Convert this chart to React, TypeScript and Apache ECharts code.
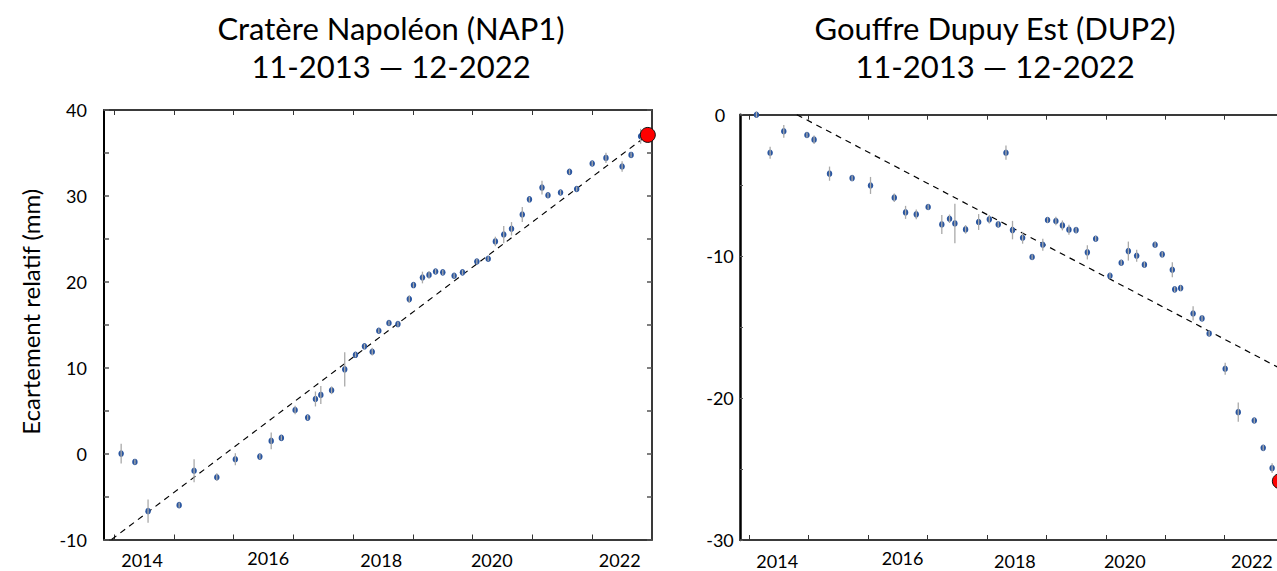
import React, { useEffect, useRef } from 'react';
import * as echarts from 'echarts';

const FONT = 'Lato, "Noto Sans", sans-serif';

// Shared axis ticks / labels (decimal years)
const YEAR_TICKS = [2014, 2015, 2016, 2017, 2018, 2019, 2020, 2021, 2022];
const YEAR_LABEL_POS = [2014.47, 2016.58, 2018.47, 2020.32, 2022.46];

// Cratère Napoléon (NAP1)
const NAP_TITLE = 'Cratère Napoléon (NAP1)';
const NAP_DATES = [
  2014.12, 2014.35, 2014.57, 2015.09, 2015.34, 2015.72, 2016.03, 2016.44, 2016.63, 2016.8,
  2017.03, 2017.24, 2017.37, 2017.46, 2017.64, 2017.86, 2018.04, 2018.19, 2018.32, 2018.43,
  2018.6, 2018.75, 2018.94, 2019.01, 2019.16, 2019.27, 2019.38, 2019.5, 2019.69, 2019.83,
  2020.07, 2020.26, 2020.38, 2020.52, 2020.65, 2020.83, 2020.95, 2021.16, 2021.26, 2021.47,
  2021.62, 2021.74, 2022.0, 2022.23, 2022.5, 2022.65, 2022.81,
];
const NAP_VALUES = [
  0.0, -0.97, -6.7, -6.0, -2.0, -2.75, -0.66, -0.35, 1.48, 1.83,
  5.08, 4.19, 6.36, 6.83, 7.37, 9.81, 11.5, 12.49, 11.86, 14.3,
  15.2, 15.08, 17.99, 19.62, 20.5, 20.8, 21.2, 21.1, 20.7, 21.1,
  22.37, 22.68, 24.7, 25.5, 26.17, 27.83, 29.6, 30.97, 30.08, 30.4,
  32.8, 30.8, 33.77, 34.42, 33.42, 34.77, 36.94,
];
const NAP_ERRORS = [
  1.16, 0.3, 1.36, 0.3, 1.34, 0.45, 0.7, 0.3, 0.97, 0.3,
  0.5, 0.3, 0.87, 1.05, 0.45, 2.0, 0.3, 0.3, 0.45, 0.3,
  0.3, 0.3, 0.45, 0.3, 0.68, 0.45, 0.3, 0.3, 0.3, 0.3,
  0.3, 0.3, 0.55, 1.0, 0.78, 0.87, 0.3, 0.8, 0.3, 0.3,
  0.3, 0.3, 0.3, 0.6, 0.6, 0.3, 0.87,
];
const NAP_TREND_X = [2013.96, 2022.93];
const NAP_TREND_Y = [-10, 37.1];
const NAP_LAST = [2022.93, 37.1];

// Gouffre Dupuy Est (DUP2)
const DUP_TITLE = 'Gouffre Dupuy Est (DUP2)';
const DUP_DATES = [
  2014.12, 2014.35, 2014.58, 2014.97, 2015.09, 2015.35, 2015.73, 2016.04, 2016.44, 2016.63,
  2016.81, 2017.01, 2017.24, 2017.37, 2017.46, 2017.64, 2017.86, 2018.04, 2018.19, 2018.32,
  2018.43, 2018.6, 2018.76, 2018.94, 2019.02, 2019.16, 2019.27, 2019.38, 2019.5, 2019.69,
  2019.83, 2020.07, 2020.26, 2020.38, 2020.52, 2020.65, 2020.83, 2020.95, 2021.12, 2021.16,
  2021.26, 2021.47, 2021.62, 2021.74, 2022.01, 2022.23, 2022.5, 2022.65, 2022.8,
];
const DUP_VALUES = [
  0.0, -2.68, -1.17, -1.43, -1.76, -4.16, -4.47, -4.99, -5.85, -6.89,
  -7.03, -6.51, -7.74, -7.34, -7.67, -8.09, -7.57, -7.38, -7.74, -2.68,
  -8.14, -8.68, -10.04, -9.17, -7.43, -7.5, -7.81, -8.11, -8.14, -9.71,
  -8.75, -11.36, -10.44, -9.62, -9.95, -10.58, -9.17, -9.85, -10.94, -12.32,
  -12.23, -14.02, -14.37, -15.43, -17.92, -20.98, -21.57, -23.5, -24.93,
];
const DUP_ERRORS = [
  0.2, 0.42, 0.45, 0.2, 0.3, 0.5, 0.2, 0.6, 0.3, 0.46,
  0.35, 0.2, 0.67, 0.3, 1.39, 0.3, 0.56, 0.3, 0.2, 0.5,
  0.65, 0.42, 0.2, 0.42, 0.2, 0.3, 0.35, 0.35, 0.2, 0.5,
  0.2, 0.2, 0.2, 0.67, 0.42, 0.2, 0.2, 0.2, 0.53, 0.2,
  0.2, 0.5, 0.2, 0.2, 0.42, 0.68, 0.2, 0.2, 0.35,
];
const DUP_TREND_X = [2014.8, 2023.0];
const DUP_TREND_Y = [0, -18.04];
const DUP_LAST = [2022.93, -25.85];

const PERIOD = '11-2013 — 12-2022';
const Y_NAME = 'Ecartement relatif (mm)';

const POINT_COLOR = '#2a56a0';
const BAR_COLOR = '#a9a9a9';
const AXIS_COLOR = '#3a3a3a';
const LABEL_SIZE = 18;

function xLabelFormatter(v: number) {
  const y = Math.floor(v + 0.001);
  return y === 2016 ? `{hi|${y}}` : `{lo|${y}}`;
}

function makeXAxes(gridIndex: number, min: number, max: number) {
  const common = {
    type: 'value',
    gridIndex,
    min,
    max,
    splitLine: { show: false },
    axisLine: { show: true, onZero: false, lineStyle: { color: AXIS_COLOR, width: 2 } },
    axisTick: {
      show: true,
      inside: true,
      length: 5,
      customValues: YEAR_TICKS,
      lineStyle: { color: '#333', width: 1 },
    },
  };
  return [
    {
      ...common,
      position: 'bottom',
      axisLabel: {
        show: true,
        customValues: YEAR_LABEL_POS,
        formatter: xLabelFormatter,
        margin: 10,
        color: '#000',
        fontFamily: FONT,
        fontSize: LABEL_SIZE,
        lineHeight: 16,
        rich: {
          hi: { fontFamily: FONT, fontSize: LABEL_SIZE, lineHeight: 16, color: '#000', padding: [0, 0, 0, 0] },
          lo: { fontFamily: FONT, fontSize: LABEL_SIZE, lineHeight: 16, color: '#000', padding: [5, 0, 0, 0] },
        },
      },
    },
    { ...common, position: 'top', axisLabel: { show: false } },
  ];
}

function errorBars(dates: number[], values: number[], errs: number[], xi: number, yi: number) {
  return {
    type: 'custom',
    xAxisIndex: xi,
    yAxisIndex: yi,
    z: 4,
    clip: false,
    data: dates.map((d, i) => [d, values[i], errs[i]]),
    renderItem: (_params: any, api: any) => {
      const x = api.value(0);
      const y = api.value(1);
      const e = api.value(2);
      const p1 = api.coord([x, y - e]);
      const p2 = api.coord([x, y + e]);
      return {
        type: 'line',
        shape: { x1: p1[0], y1: p1[1], x2: p2[0], y2: p2[1] },
        style: { stroke: BAR_COLOR, lineWidth: 1.3 },
      };
    },
  };
}

function points(dates: number[], values: number[], xi: number, yi: number) {
  return {
    type: 'scatter',
    xAxisIndex: xi,
    yAxisIndex: yi,
    z: 3,
    clip: false,
    symbol: 'circle',
    symbolSize: [5.5, 6.5],
    itemStyle: { color: POINT_COLOR, opacity: 1 },
    data: dates.map((d, i) => [d, values[i]]),
  };
}

function trend(xs: number[], ys: number[], xi: number, yi: number) {
  return {
    type: 'line',
    xAxisIndex: xi,
    yAxisIndex: yi,
    z: 2,
    showSymbol: false,
    symbol: 'none',
    lineStyle: { color: '#000', width: 1.2, type: [6, 5] },
    data: xs.map((x, i) => [x, ys[i]]),
  };
}

function lastPoint(p: number[], xi: number, yi: number) {
  return {
    type: 'scatter',
    xAxisIndex: xi,
    yAxisIndex: yi,
    z: 6,
    clip: false,
    symbol: 'circle',
    symbolSize: 15,
    itemStyle: { color: '#ff0000', borderColor: '#111', borderWidth: 1, opacity: 1 },
    data: [p],
  };
}

export default function App() {
  const ref = useRef<HTMLDivElement>(null);

  useEffect(() => {
    if (!ref.current) return;
    const chart = echarts.init(ref.current, undefined, { renderer: 'svg' });
    const titleStyle = {
      fontFamily: FONT,
      fontSize: 31,
      fontWeight: 'normal',
      color: '#000',
      lineHeight: 38,
    };
    chart.setOption({
      animation: false,
      backgroundColor: '#fff',
      textStyle: { fontFamily: FONT },
      title: [
        {
          text: `${NAP_TITLE}\n${PERIOD}`,
          left: 391,
          top: 9,
          padding: 0,
          textAlign: 'center',
          textStyle: titleStyle,
        },
        {
          text: `${DUP_TITLE}\n${PERIOD}`,
          left: 995,
          top: 9,
          padding: 0,
          textAlign: 'center',
          textStyle: titleStyle,
        },
      ],
      grid: [
        { left: 104, top: 110, width: 548, height: 429.5, containLabel: false },
        { left: 740, top: 114.7, width: 544, height: 425.3, containLabel: false },
      ],
      xAxis: [...makeXAxes(0, 2013.833, 2023.0), ...makeXAxes(1, 2013.843, 2023.0)],
      yAxis: [
        {
          type: 'value',
          gridIndex: 0,
          position: 'left',
          min: -10,
          max: 40,
          interval: 5,
          splitLine: { show: false },
          axisLine: { show: true, onZero: false, lineStyle: { color: '#000', width: 2 } },
          axisTick: { show: true, inside: true, length: 5, lineStyle: { color: '#555', width: 1.5 } },
          axisLabel: {
            margin: 17,
            color: '#000',
            fontFamily: FONT,
            fontSize: LABEL_SIZE,
            formatter: (v: number) => (v % 10 === 0 ? String(v) : ''),
          },
          name: Y_NAME,
          nameLocation: 'middle',
          nameGap: 62,
          nameRotate: 90,
          nameTextStyle: { fontFamily: FONT, fontSize: 24, color: '#000', padding: [0, 0, 0, 26] },
        },
        {
          type: 'value',
          gridIndex: 0,
          position: 'right',
          min: -10,
          max: 40,
          interval: 5,
          splitLine: { show: false },
          axisLine: { show: true, onZero: false, lineStyle: { color: AXIS_COLOR, width: 2 } },
          axisTick: { show: true, inside: true, length: 5, lineStyle: { color: '#555', width: 1.5 } },
          axisLabel: { show: false },
        },
        {
          type: 'value',
          gridIndex: 1,
          position: 'left',
          min: -30,
          max: 0,
          interval: 5,
          splitLine: { show: false },
          axisLine: { show: true, onZero: false, lineStyle: { color: '#000', width: 2.5 } },
          axisTick: { show: true, inside: true, length: 3, lineStyle: { color: '#555', width: 1 } },
          axisLabel: {
            margin: 20,
            align: 'center',
            color: '#000',
            fontFamily: FONT,
            fontSize: LABEL_SIZE,
            padding: [6, 0, 0, 0],
            formatter: (v: number) => (v % 10 === 0 ? String(v) : ''),
          },
        },
      ],
      series: [
        trend(NAP_TREND_X, NAP_TREND_Y, 0, 0),
        points(NAP_DATES, NAP_VALUES, 0, 0),
        errorBars(NAP_DATES, NAP_VALUES, NAP_ERRORS, 0, 0),
        lastPoint(NAP_LAST, 0, 0),
        trend(DUP_TREND_X, DUP_TREND_Y, 2, 2),
        points(DUP_DATES, DUP_VALUES, 2, 2),
        errorBars(DUP_DATES, DUP_VALUES, DUP_ERRORS, 2, 2),
        lastPoint(DUP_LAST, 2, 2),
      ],
    });
    return () => chart.dispose();
  }, []);

  return (
    <div
      style={{
        position: 'absolute',
        left: 0,
        top: 0,
        width: 1277,
        height: 571,
        overflow: 'hidden',
        background: '#fff',
      }}
    >
      <div ref={ref} style={{ width: 1300, height: 571 }} />
    </div>
  );
}
